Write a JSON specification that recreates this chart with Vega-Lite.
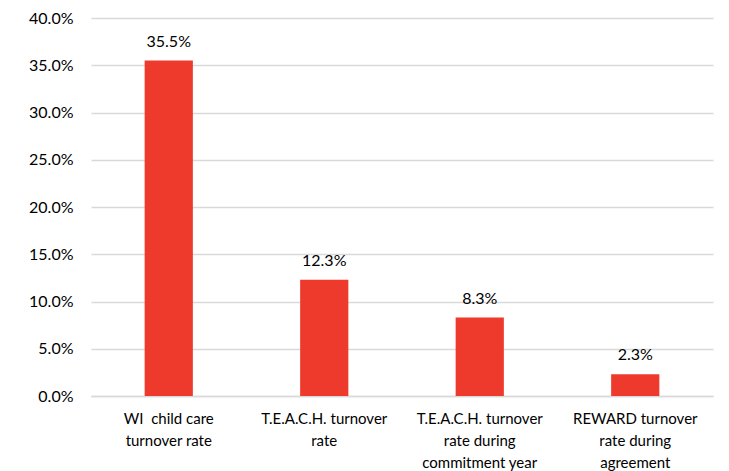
{
  "$schema": "https://vega.github.io/schema/vega-lite/v6.json",
  "width": 622,
  "height": 378,
  "autosize": {"type": "none"},
  "padding": {"left": 91, "top": 18, "right": 16, "bottom": 75},
  "background": "white",
  "config": {
    "view": {"stroke": null},
    "font": "Lato",
    "axis": {"labelFont": "Lato", "labelColor": "#000000"}
  },
  "data": {
    "values": [
      {"category": "WI\u00a0 child care|turnover rate", "rate": 0.355},
      {"category": "T.E.A.C.H. turnover|rate", "rate": 0.123},
      {"category": "T.E.A.C.H. turnover|rate during|commitment year", "rate": 0.083},
      {"category": "REWARD turnover|rate during|agreement", "rate": 0.023}
    ]
  },
  "encoding": {
    "x": {
      "field": "category",
      "type": "nominal",
      "sort": null,
      "scale": {"paddingInner": 0.69, "paddingOuter": 0.345},
      "axis": {
        "title": null,
        "labelAngle": 0,
        "labelExpr": "split(datum.label, '|')",
        "labelFontSize": 15,
        "labelLineHeight": 22,
        "labelPadding": 15,
        "labelBaseline": "top",
        "ticks": false,
        "domainColor": "#d9d9d9",
        "domainWidth": 1.5,
        "labelLimit": 200
      }
    },
    "y": {
      "field": "rate",
      "type": "quantitative",
      "scale": {"domain": [0, 0.4], "nice": false},
      "axis": {
        "title": null,
        "format": ".1%",
        "values": [0, 0.05, 0.1, 0.15, 0.2, 0.25, 0.3, 0.35, 0.4],
        "domain": false,
        "ticks": false,
        "labelFontSize": 16,
        "labelPadding": 18,
        "gridColor": "#d9d9d9",
        "gridWidth": 1.5
      }
    }
  },
  "layer": [
    {"mark": {"type": "bar", "color": "#EE3A2D"}},
    {
      "mark": {"type": "text", "dy": -14, "baseline": "alphabetic", "fontSize": 16, "font": "Lato", "color": "#000000"},
      "encoding": {"text": {"field": "rate", "type": "quantitative", "format": ".1%"}}
    }
  ]
}
